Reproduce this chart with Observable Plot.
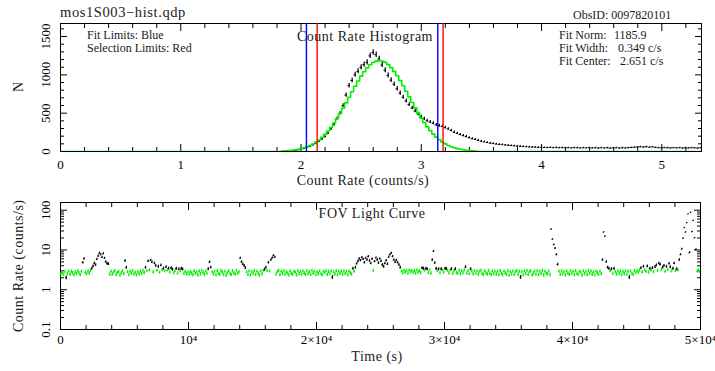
<!DOCTYPE html>
<html>
<head>
<meta charset="utf-8">
<script src="https://cdn.jsdelivr.net/npm/d3@7"></script>
<script src="https://cdn.jsdelivr.net/npm/@observablehq/plot@0.6"></script>
<style>
  body { margin: 0; background: #ffffff; }
  #chart { position: relative; width: 715px; height: 371px; font-family: "Liberation Serif", "Times New Roman", serif; }
  #chart svg { position: absolute; left: 0; overflow: visible; }
</style>
</head>
<body>
<div id="chart"></div>
<script>
// ---------------- DATA ----------------
// Count-rate histogram (black points with sqrt(N) error bars)
const histStart = 1.85;     // centre of first bin (counts/s)
const histBin = 0.025;      // bin width (counts/s)
const histCounts = [
  2, 3, 5, 9, 13, 19, 27, 38, 52, 66,
  84, 108, 132, 160, 192, 236, 296, 352, 428, 497,
  598, 736, 858, 927, 1001, 1046, 1098, 1133, 1162, 1248,
  1291, 1263, 1207, 1128, 1061, 992, 931, 877, 818, 762,
  708, 659, 612, 568, 527, 489, 452, 426, 401, 384,
  368, 347, 336, 328, 311, 294, 274, 251, 237, 221,
  207, 194, 179, 167, 157, 145, 134, 126, 117, 109,
  103, 97, 92, 89, 84, 81, 77, 73, 70, 67,
  64, 62, 59, 57, 56, 54, 53,
  52, 50, 53, 49, 51, 48, 50, 47, 49, 46,
  50, 47, 45, 48, 46, 49, 45, 47, 44, 48,
  45, 47, 43, 46, 48, 44, 47, 45, 49, 51,
  55, 58, 60, 57, 61, 56, 59, 52, 48, 46,
  50, 47, 45, 49, 46, 48, 44, 47, 45, 48,
  46, 44, 47
];
// Gaussian fit curve (green step line), values read per bin
const fitStart = 1.825;
const fitBin = 0.025;
const fitCounts = [
  0, 6, 8, 12, 16, 21, 28, 37, 48, 61,
  78, 98, 122, 151, 185, 223, 267, 317, 371, 431,
  496, 564, 635, 707, 780, 851, 920, 984, 1041, 1091,
  1131, 1161, 1179, 1186, 1180, 1163, 1134, 1094, 1045, 988,
  925, 857, 786, 713, 640, 569, 501, 436, 376, 321,
  271, 227, 188, 154, 124, 100, 79, 62, 49, 37,
  29, 22, 16, 12, 9, 6, 0
];
const fitLimits = [2.045, 3.137];        // blue
const selectionLimits = [2.134, 3.181];  // red
const histXDomain = [0, 5.33];
const histYDomain = [0, 1670];
const histXTicks = [0, 1, 2, 3, 4, 5];
const histXMinor = [0.2,0.4,0.6,0.8,1.2,1.4,1.6,1.8,2.2,2.4,2.6,2.8,3.2,3.4,3.6,3.8,4.2,4.4,4.6,4.8,5.2];
const histYTicks = [0, 500, 1000, 1500];
const histYMinor = [100,200,300,400,600,700,800,900,1100,1200,1300,1400,1600];

// FOV light curve (counts/s), 100 s bins
const lcBinSize = 100;      // s, horizontal extent of each point
const lcErrExposure = 40;   // s, live exposure used for the Poisson error bars
const lcRates = [
  2.45,2.70,2.38,2.82,2.00,2.52,2.91,2.40,2.85,2.60,2.33,2.78,2.50,2.95,2.62,2.36,2.88,4.80,6.00,2.72,
  2.48,2.90,2.58,3.02,3.40,3.90,4.60,4.20,5.80,7.00,8.30,7.60,6.50,8.00,6.20,5.00,4.50,4.40,2.44,2.86,
  2.39,2.74,2.96,2.35,2.66,2.84,2.30,2.60,2.92,2.47,5.30,3.60,2.78,2.37,2.88,2.55,3.00,2.43,2.70,2.32,
  2.83,2.46,2.90,2.52,3.04,2.64,3.60,2.95,5.20,3.08,5.50,4.90,2.76,4.60,4.00,3.02,3.80,2.70,4.10,3.10,
  3.40,2.92,3.70,3.06,3.40,2.74,3.50,3.22,2.62,3.00,3.40,2.58,3.30,2.96,3.40,3.25,2.52,2.88,2.44,2.80,
  2.41,2.84,2.57,2.34,2.93,2.50,2.76,2.31,2.89,2.45,3.01,2.68,2.38,2.90,2.55,3.30,4.90,3.60,2.80,2.42,
  2.86,2.33,2.95,2.50,2.40,3.00,2.72,2.36,2.87,2.28,2.66,2.97,2.48,2.35,2.91,2.58,2.42,3.03,2.53,2.80,
  6.20,5.00,4.40,4.00,3.50,2.78,2.40,2.93,2.32,2.84,2.49,2.98,2.37,2.88,2.56,2.30,2.92,2.46,3.02,3.20,
  3.60,2.98,4.80,2.90,5.60,6.30,7.20,6.50,2.44,2.82,3.00,2.36,2.86,2.50,2.94,2.40,2.80,2.55,2.31,2.90,
  2.52,2.38,2.88,2.70,2.33,2.97,2.47,2.82,2.40,2.92,2.58,2.35,2.95,2.49,2.84,2.39,3.04,2.56,2.86,2.37,
  2.80,2.45,2.93,2.50,2.32,2.87,2.62,2.99,2.39,2.83,2.48,2.91,2.05,2.76,2.42,2.96,2.34,2.85,2.53,2.90,
  2.41,2.92,2.48,2.83,2.36,2.89,2.60,2.44,3.40,2.86,3.60,4.50,5.20,6.00,5.40,6.40,5.80,4.80,6.20,5.60,
  6.80,5.30,4.60,5.90,3.00,5.10,6.30,5.60,4.70,6.00,5.20,4.20,3.80,4.60,5.40,4.40,6.60,7.60,8.30,6.80,
  5.60,4.90,5.50,4.80,4.20,3.60,2.92,2.60,3.06,2.70,2.98,2.55,3.10,2.76,3.02,2.64,2.94,2.58,3.08,2.72,
  2.98,2.60,3.50,3.40,3.04,3.40,3.30,2.66,3.10,2.57,5.60,9.20,4.70,3.40,2.95,3.30,2.62,3.30,3.06,2.70,
  3.40,3.35,2.98,2.58,3.08,3.30,2.52,2.96,3.30,2.64,2.55,3.04,2.48,2.99,2.60,3.10,3.70,2.56,2.97,2.50,
  3.30,2.88,2.46,3.00,2.55,2.93,2.42,2.85,3.03,2.50,2.38,2.95,2.57,2.44,2.99,2.52,2.36,2.90,2.47,2.86,
  2.43,2.88,2.35,2.97,2.54,2.33,2.90,2.61,2.40,2.94,2.30,2.84,2.45,2.92,2.37,2.79,3.00,2.41,2.87,2.05,
  2.80,2.32,2.89,2.46,2.98,2.38,2.83,2.93,2.29,2.57,2.91,2.42,2.95,2.35,2.85,2.48,3.01,2.31,2.87,2.55,
  2.44,2.90,2.36,33.0,18.5,13.6,11.0,7.60,4.30,2.86,2.38,2.94,2.47,2.82,2.32,2.91,2.58,2.40,2.99,2.51,
  2.88,2.34,2.95,2.52,2.39,2.90,2.68,2.30,2.93,2.45,2.84,2.37,2.98,2.50,2.89,2.41,2.79,2.33,2.92,2.60,
  2.38,2.91,2.49,5.60,28.0,22.0,5.00,3.60,3.40,2.96,3.30,2.54,3.40,2.80,2.42,2.94,2.50,2.87,2.36,2.83,
  2.45,2.93,2.39,2.86,2.05,2.90,2.51,2.40,2.97,2.62,3.02,2.70,3.08,3.50,2.76,3.80,3.10,2.85,3.90,2.72,
  3.40,3.04,3.50,2.80,3.70,4.10,2.98,4.60,4.30,3.12,3.60,4.00,2.86,3.80,3.14,4.50,3.70,2.90,3.40,4.60,
  2.96,3.30,3.05,5.60,7.60,10.5,19.5,36.0,28.0,48.0,80.0,8.50,88.0,28.5,55.0,20.0,10.2,2.90,3.10,2.80
];
const lcXDomain = [0, 50000];
const lcYDomain = [0.1, 156];
const lcXTicks = [0, 10000, 20000, 30000, 40000, 50000];
const lcXTickLabels = ["0", "10\u2074", "2\u00d710\u2074", "3\u00d710\u2074", "4\u00d710\u2074", "5\u00d710\u2074"];
const lcXMinor = [2000,4000,6000,8000,12000,14000,16000,18000,22000,24000,26000,28000,32000,34000,36000,38000,42000,44000,46000,48000];
const lcYTicks = [0.1, 1, 10, 100];
const lcYTickLabels = ["0.1", "1", "10", "100"];
const lcYMinor = [0.2,0.3,0.4,0.5,0.6,0.7,0.8,0.9,2,3,4,5,6,7,8,9,20,30,40,50,60,70,80,90];

// Texts
const fileTitle = "mos1S003\u2212hist.qdp";
const obsIdText = "ObsID: 0097820101";
const histTitle = "Count Rate Histogram";
const lcTitle = "FOV Light Curve";
const legendLines = ["Fit Limits: Blue", "Selection Limits: Red"];
const fitLabels = ["Fit Norm:", "Fit Width:", "Fit Center:"];
const fitValues = ["1185.9", "0.349 c/s", "2.651 c/s"];
const histXLabel = "Count Rate (counts/s)";
const histYLabel = "N";
const lcXLabel = "Time (s)";
const lcYLabel = "Count Rate (counts/s)";

// ---------------- BUILD ----------------
const GREEN = "#00f000";
const FONT = "Liberation Serif, Times New Roman, serif";
const hist = histCounts.map((n, i) => ({x: histStart + i * histBin, n, e: Math.sqrt(n)}));
const fit = [{x: histXDomain[0], n: 0}]
  .concat(fitCounts.map((n, i) => ({x: fitStart + i * fitBin, n})))
  .concat([{x: histXDomain[1], n: 0}]);
const lc = lcRates.map((r, i) => ({t: (i + 0.5) * lcBinSize, r, e: Math.sqrt(r * lcErrExposure) / lcErrExposure}));
const inSel = d => d.r >= selectionLimits[0] && d.r <= selectionLimits[1];
const lcGood = lc.filter(inSel);
const lcBad = lc.filter(d => !inSel(d));

const blank = () => "";
const styleObj = {fontFamily: FONT, fontSize: "13px", color: "black", background: "transparent", overflow: "visible"};

function tickAxes(xMajor, xMinor, yMajor, yMinor) {
  const out = [];
  for (const anchor of ["bottom", "top"]) {
    out.push(Plot.axisX({ticks: xMajor, anchor, tickSize: -7, tickFormat: blank, label: null, strokeWidth: 1}));
    out.push(Plot.axisX({ticks: xMinor, anchor, tickSize: -4, tickFormat: blank, label: null, strokeWidth: 1}));
  }
  for (const anchor of ["left", "right"]) {
    out.push(Plot.axisY({ticks: yMajor, anchor, tickSize: -7, tickFormat: blank, label: null, strokeWidth: 1}));
    out.push(Plot.axisY({ticks: yMinor, anchor, tickSize: -4, tickFormat: blank, label: null, strokeWidth: 1}));
  }
  return out;
}

const topPlot = Plot.plot({
  width: 715, height: 190,
  marginLeft: 60, marginRight: 14, marginTop: 23, marginBottom: 39,
  style: styleObj,
  x: {domain: histXDomain, label: null},
  y: {domain: histYDomain, label: null},
  marks: [
    Plot.frame({stroke: "black", strokeWidth: 1}),
    ...tickAxes(histXTicks, histXMinor, histYTicks, histYMinor),
    Plot.axisX({ticks: histXTicks, anchor: "bottom", tickSize: 0, tickPadding: 8, tickFormat: d => String(d), label: null, fontSize: 13}),
    Plot.axisY({ticks: histYTicks, anchor: "left", tickSize: 0, tickPadding: 11, tickRotate: -90, tickFormat: d => String(d), label: null, fontSize: 13}),
    Plot.ruleX(hist, {x: "x", y1: d => d.n - d.e, y2: d => d.n + d.e, stroke: "black", strokeWidth: 1.2, clip: true}),
    Plot.ruleY(hist, {y: "n", x1: d => d.x - histBin * 0.4, x2: d => d.x + histBin * 0.4, stroke: "black", strokeWidth: 1, clip: true}),
    Plot.line(fit, {x: "x", y: "n", curve: "step", stroke: GREEN, strokeWidth: 1.6, clip: true}),
    Plot.ruleX(fitLimits, {stroke: "#0000ff", strokeWidth: 1.4}),
    Plot.ruleX(selectionLimits, {stroke: "#ff0000", strokeWidth: 1.4})
  ]
});

const botPlot = Plot.plot({
  width: 715, height: 181,
  marginLeft: 60, marginRight: 15, marginTop: 12, marginBottom: 42,
  style: styleObj,
  x: {domain: lcXDomain, label: null},
  y: {type: "log", domain: lcYDomain, label: null},
  marks: [
    Plot.frame({stroke: "black", strokeWidth: 1}),
    ...tickAxes(lcXTicks, lcXMinor, lcYTicks, lcYMinor),
    Plot.axisX({ticks: lcXTicks, anchor: "bottom", tickSize: 0, tickPadding: 5, tickFormat: d => lcXTickLabels[lcXTicks.indexOf(d)], label: null, fontSize: 13}),
    Plot.axisY({ticks: lcYTicks, anchor: "left", tickSize: 0, tickPadding: 11, tickRotate: -90, tickFormat: d => lcYTickLabels[lcYTicks.indexOf(d)], label: null, fontSize: 13}),
    Plot.ruleY(lcGood, {y: "r", x1: d => d.t - lcBinSize / 2, x2: d => d.t + lcBinSize / 2, stroke: GREEN, strokeWidth: 1, clip: true}),
    Plot.ruleX(lcGood, {x: "t", y1: d => d.r - d.e, y2: d => d.r + d.e, stroke: GREEN, strokeWidth: 1.2, clip: true}),
    Plot.ruleY(lcBad, {y: "r", x1: d => d.t - lcBinSize / 2, x2: d => d.t + lcBinSize / 2, stroke: "black", strokeWidth: 1, clip: true}),
    Plot.ruleX(lcBad, {x: "t", y1: d => d.r - d.e, y2: d => d.r + d.e, stroke: "black", strokeWidth: 1.2, clip: true})
  ]
});

const chart = document.getElementById("chart");
topPlot.style.top = "0px";
botPlot.style.top = "190px";
chart.appendChild(topPlot);
chart.appendChild(botPlot);

function addText(svg, str, x, y, opts = {}) {
  const t = d3.select(svg).append("text")
    .attr("x", x).attr("y", y)
    .attr("font-family", FONT)
    .attr("font-size", opts.size || 14)
    .attr("fill", opts.fill || "#1a1a1a")
    .attr("text-anchor", opts.anchor || "start")
    .text(str);
  if (opts.ls) t.attr("letter-spacing", opts.ls);
  if (opts.rotate) t.attr("transform", `rotate(${opts.rotate},${x},${y})`);
  return t;
}

// top panel texts
addText(topPlot, fileTitle, 60, 16.5, {size: 14.5, ls: 0.6});
addText(topPlot, obsIdText, 573, 19, {size: 12});
addText(topPlot, legendLines[0], 87, 39, {size: 12});
addText(topPlot, legendLines[1], 87, 51.7, {size: 12});
addText(topPlot, histTitle, 365, 40.5, {size: 14, ls: 0.5, anchor: "middle"});
const fitValX = [614, 618, 620];
fitLabels.forEach((l, i) => {
  addText(topPlot, l, 559, 38.5 + 13 * i, {size: 12});
  addText(topPlot, fitValues[i], fitValX[i], 38.5 + 13 * i, {size: 12});
});
addText(topPlot, histXLabel, 363, 185, {size: 14, ls: 0.5, anchor: "middle"});
addText(topPlot, histYLabel, 23, 87, {size: 14, anchor: "middle", rotate: -90});

// bottom panel texts (offset 190)
addText(botPlot, lcTitle, 372, 218 - 190, {size: 14, ls: 0.5, anchor: "middle"});
addText(botPlot, lcXLabel, 377, 361 - 190, {size: 14, ls: 0.5, anchor: "middle"});
addText(botPlot, lcYLabel, 23, 265.8 - 190, {size: 14, ls: 0.5, anchor: "middle", rotate: -90});
</script>
</body>
</html>
